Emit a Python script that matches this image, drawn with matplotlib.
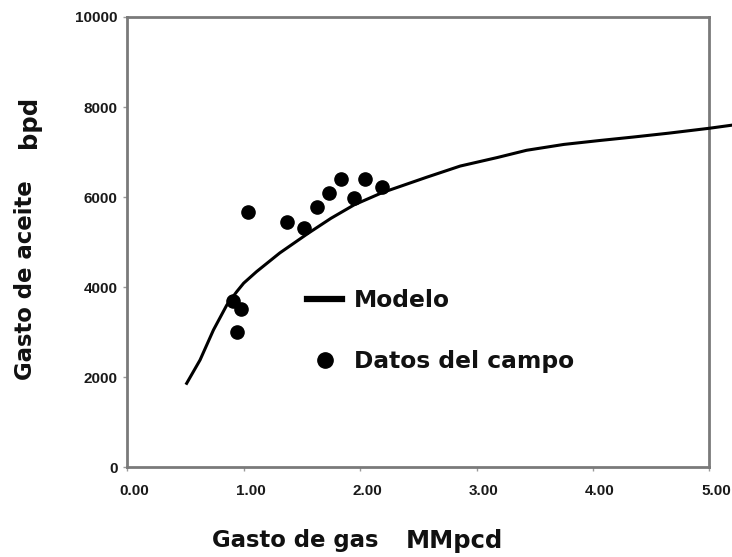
import matplotlib
matplotlib.use("Agg")
import matplotlib.pyplot as plt
import matplotlib.transforms as mtransforms
from matplotlib.lines import Line2D

# --- datos ---
gas_modelo = [0.51, 0.625, 0.74, 0.855, 0.94, 1.00, 1.11, 1.31, 1.55, 1.75,
              1.95, 2.19, 2.57, 2.86, 3.18, 3.43, 3.75, 4.05, 4.35, 4.65,
              5.00, 5.20]
aceite_modelo = [1865, 2383, 3049, 3604, 3900, 4090, 4344, 4760, 5190, 5530,
                 5830, 6100, 6440, 6690, 6880, 7040, 7170, 7255, 7335, 7420,
                 7529, 7600]

gas_campo = [1.04, 1.37, 1.52, 1.63, 1.73, 1.84, 1.95, 2.04, 2.19, 0.91, 0.98, 0.94]
aceite_campo = [5680, 5440, 5310, 5770, 6090, 6400, 5970, 6400, 6230, 3700, 3520, 3010]

x_ticks = [0, 1, 2, 3, 4, 5]
y_ticks = [0, 2000, 4000, 6000, 8000, 10000]

W, H = 732, 557
fig = plt.figure(figsize=(W / 100, H / 100), dpi=100)
ax = fig.add_axes([127.3 / W, 1 - 467.3 / H, (709.3 - 127.3) / W, (467.3 - 17) / H])

ax.plot(gas_modelo, aceite_modelo, color='black', lw=2.2, clip_on=False,
        solid_joinstyle='round', zorder=3)
ax.plot(gas_campo, aceite_campo, 'o', color='black', ms=9.5, zorder=4)

ax.set_xlim(0, 5)
ax.set_ylim(0, 10000)
ax.set_xticks(x_ticks)
ax.set_yticks(y_ticks)
ax.set_xticklabels([f'{v:.2f}' for v in x_ticks])
ax.set_yticklabels([str(v) for v in y_ticks])

for s in ax.spines.values():
    s.set_color('#7a7a7a')
    s.set_linewidth(2.0)
ax.tick_params(direction='out', length=3, width=1, color='#9a9a9a',
               labelsize=11, pad=4)
ax.tick_params(axis='x', pad=9)
for lab in ax.get_xticklabels() + ax.get_yticklabels():
    lab.set_fontfamily('Liberation Sans')
    lab.set_fontweight('bold')
    lab.set_color('#1a1a1a')
# las etiquetas del eje x van algo corridas a la derecha en el original
shift = mtransforms.ScaledTranslation(5 / 72, 0, fig.dpi_scale_trans)
for lab in ax.get_xticklabels():
    lab.set_transform(lab.get_transform() + shift)

# leyenda sin marco, dentro del grafico
handles = [Line2D([], [], color='black', lw=4.5),
           Line2D([], [], marker='o', ls='', color='black', ms=11)]
leg = ax.legend(handles, ['Modelo', 'Datos del campo'], loc='upper left',
                bbox_to_anchor=(0.309, 0.395), frameon=False, borderpad=0,
                borderaxespad=0, handlelength=1.5, handletextpad=0.5,
                labelspacing=1.6,
                prop={'family': 'DejaVu Sans', 'weight': 'bold', 'size': 16.8})
for t in leg.get_texts():
    t.set_color('#111111')

# titulos de ejes
lbl = dict(fontfamily='DejaVu Sans', fontweight='bold', color='#111111',
           ha='center', va='center')
fig.text(295 / W, 1 - 540 / H, 'Gasto de gas', fontsize=16.4, **lbl)
fig.text(454 / W, 1 - 541 / H, 'MMpcd', fontsize=17.5, **lbl)
fig.text(25 / W, 1 - 280 / H, 'Gasto de aceite', rotation=90, fontsize=16.4, **lbl)
fig.text(29 / W, 1 - 122 / H, 'bpd', rotation=90, fontsize=17.5, **lbl)

fig.savefig('out.png', dpi=100)
